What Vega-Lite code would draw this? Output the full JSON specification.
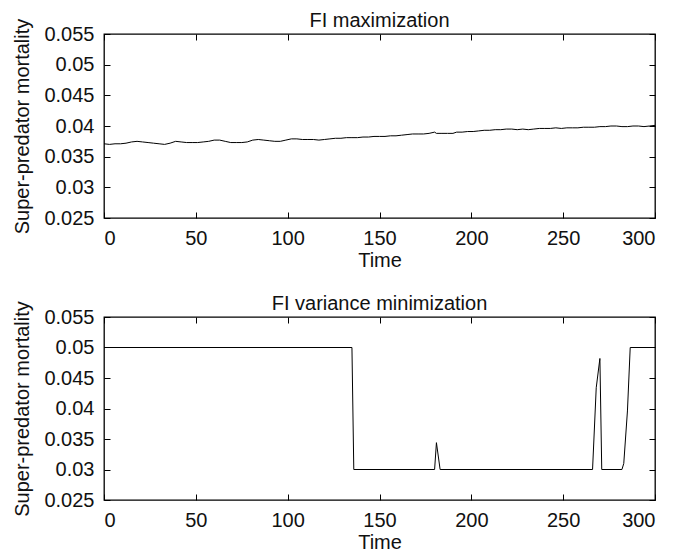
{
  "$schema": "https://vega.github.io/schema/vega-lite/v6.json",
  "padding": {"left": 12, "top": 10, "right": 10, "bottom": 0},
  "background": "white",
  "datasets": {
    "maximization": [
      {"time": 0, "mortality": 0.0371}, {"time": 3, "mortality": 0.0370}, {"time": 6, "mortality": 0.0371},
      {"time": 9, "mortality": 0.0371}, {"time": 12, "mortality": 0.0372}, {"time": 15, "mortality": 0.0374},
      {"time": 18, "mortality": 0.0375}, {"time": 21, "mortality": 0.0374}, {"time": 24, "mortality": 0.0373},
      {"time": 27, "mortality": 0.0372}, {"time": 30, "mortality": 0.0371}, {"time": 33, "mortality": 0.0370},
      {"time": 36, "mortality": 0.0372}, {"time": 39, "mortality": 0.0375}, {"time": 42, "mortality": 0.0374},
      {"time": 45, "mortality": 0.0373}, {"time": 48, "mortality": 0.0373}, {"time": 51, "mortality": 0.0373},
      {"time": 54, "mortality": 0.0374}, {"time": 57, "mortality": 0.0375}, {"time": 60, "mortality": 0.0377},
      {"time": 63, "mortality": 0.0377}, {"time": 66, "mortality": 0.0375}, {"time": 69, "mortality": 0.0373},
      {"time": 72, "mortality": 0.0373}, {"time": 75, "mortality": 0.0373}, {"time": 78, "mortality": 0.0374},
      {"time": 81, "mortality": 0.0377}, {"time": 84, "mortality": 0.0378}, {"time": 87, "mortality": 0.0377},
      {"time": 90, "mortality": 0.0376}, {"time": 93, "mortality": 0.0375}, {"time": 96, "mortality": 0.0375},
      {"time": 99, "mortality": 0.0377}, {"time": 102, "mortality": 0.0379}, {"time": 105, "mortality": 0.0379},
      {"time": 108, "mortality": 0.0378}, {"time": 111, "mortality": 0.0378}, {"time": 114, "mortality": 0.0378},
      {"time": 117, "mortality": 0.0377}, {"time": 120, "mortality": 0.0378}, {"time": 123, "mortality": 0.0379},
      {"time": 126, "mortality": 0.0380}, {"time": 129, "mortality": 0.0380}, {"time": 132, "mortality": 0.0381},
      {"time": 135, "mortality": 0.0381}, {"time": 138, "mortality": 0.0381}, {"time": 141, "mortality": 0.0382},
      {"time": 144, "mortality": 0.0382}, {"time": 147, "mortality": 0.0383}, {"time": 150, "mortality": 0.0383},
      {"time": 153, "mortality": 0.0383}, {"time": 156, "mortality": 0.0384}, {"time": 159, "mortality": 0.0384},
      {"time": 162, "mortality": 0.0385}, {"time": 165, "mortality": 0.0386}, {"time": 168, "mortality": 0.0387},
      {"time": 171, "mortality": 0.0387}, {"time": 174, "mortality": 0.0387}, {"time": 177, "mortality": 0.0388},
      {"time": 180, "mortality": 0.0390}, {"time": 181, "mortality": 0.0388}, {"time": 184, "mortality": 0.0388},
      {"time": 187, "mortality": 0.0388}, {"time": 190, "mortality": 0.0388}, {"time": 192, "mortality": 0.0390},
      {"time": 195, "mortality": 0.0390}, {"time": 198, "mortality": 0.0391}, {"time": 201, "mortality": 0.0391},
      {"time": 204, "mortality": 0.0392}, {"time": 207, "mortality": 0.0393}, {"time": 210, "mortality": 0.0393},
      {"time": 213, "mortality": 0.0394}, {"time": 216, "mortality": 0.0394}, {"time": 219, "mortality": 0.0395},
      {"time": 222, "mortality": 0.0395}, {"time": 225, "mortality": 0.0394}, {"time": 228, "mortality": 0.0395},
      {"time": 231, "mortality": 0.0394}, {"time": 234, "mortality": 0.0395}, {"time": 237, "mortality": 0.0396},
      {"time": 240, "mortality": 0.0396}, {"time": 243, "mortality": 0.0396}, {"time": 246, "mortality": 0.0397},
      {"time": 249, "mortality": 0.0396}, {"time": 252, "mortality": 0.0397}, {"time": 255, "mortality": 0.0397},
      {"time": 258, "mortality": 0.0397}, {"time": 261, "mortality": 0.0398}, {"time": 264, "mortality": 0.0398},
      {"time": 267, "mortality": 0.0398}, {"time": 270, "mortality": 0.0399}, {"time": 273, "mortality": 0.0399},
      {"time": 276, "mortality": 0.0400}, {"time": 279, "mortality": 0.0400}, {"time": 282, "mortality": 0.0399},
      {"time": 285, "mortality": 0.0399}, {"time": 288, "mortality": 0.0400}, {"time": 291, "mortality": 0.0400},
      {"time": 294, "mortality": 0.0399}, {"time": 297, "mortality": 0.0400}, {"time": 300, "mortality": 0.0401}
    ],
    "variance": [
      {"time": 0, "mortality": 0.05}, {"time": 135, "mortality": 0.05}, {"time": 136, "mortality": 0.03},
      {"time": 180, "mortality": 0.03}, {"time": 181, "mortality": 0.0344}, {"time": 183, "mortality": 0.03},
      {"time": 266, "mortality": 0.03}, {"time": 268, "mortality": 0.0434}, {"time": 270, "mortality": 0.0482},
      {"time": 271, "mortality": 0.03}, {"time": 282, "mortality": 0.03}, {"time": 283, "mortality": 0.031},
      {"time": 285, "mortality": 0.0396}, {"time": 286.5, "mortality": 0.05}, {"time": 300, "mortality": 0.05}
    ]
  },
  "vconcat": [
    {
      "width": 551,
      "height": 184,
      "title": {"text": "FI maximization"},
      "data": {"name": "maximization"},
      "layer": [
        {
          "mark": {"type": "line", "color": "black", "strokeWidth": 1},
          "encoding": {
            "x": {"field": "time", "type": "quantitative", "scale": {"domain": [0, 300], "nice": false},
                  "axis": {"title": "Time", "values": [0, 50, 100, 150, 200, 250, 300], "orient": "bottom", "ticks": true, "zindex": 1, "offset": -6, "tickSize": 6, "tickColor": "black", "labelPadding": 10, "titlePadding": 2}},
            "y": {"field": "mortality", "type": "quantitative", "scale": {"domain": [0.025, 0.055], "nice": false, "zero": false},
                  "axis": {"title": "Super-predator mortality", "values": [0.025, 0.03, 0.035, 0.04, 0.045, 0.05, 0.055], "format": ".3~f", "orient": "left", "ticks": true, "zindex": 1, "offset": -6, "tickSize": 6, "tickColor": "black", "labelPadding": 10, "titlePadding": 11}}
          }
        },
        {
          "mark": {"type": "line", "strokeOpacity": 0},
          "encoding": {
            "x": {"field": "time", "type": "quantitative", "scale": {"domain": [0, 300], "nice": false},
                  "axis": {"title": null, "labels": false, "values": [0, 50, 100, 150, 200, 250, 300], "orient": "top", "ticks": true, "zindex": 1, "offset": -6, "tickSize": 6, "tickColor": "black"}},
            "y": {"field": "mortality", "type": "quantitative", "scale": {"domain": [0.025, 0.055], "nice": false, "zero": false},
                  "axis": {"title": null, "labels": false, "values": [0.025, 0.03, 0.035, 0.04, 0.045, 0.05, 0.055], "orient": "right", "ticks": true, "zindex": 1, "offset": -6, "tickSize": 6, "tickColor": "black"}}
          }
        }
      ],
      "resolve": {"axis": {"x": "independent", "y": "independent"}}
    },
    {
      "width": 551,
      "height": 183,
      "title": {"text": "FI variance minimization"},
      "data": {"name": "variance"},
      "layer": [
        {
          "mark": {"type": "line", "color": "black", "strokeWidth": 1},
          "encoding": {
            "x": {"field": "time", "type": "quantitative", "scale": {"domain": [0, 300], "nice": false},
                  "axis": {"title": "Time", "values": [0, 50, 100, 150, 200, 250, 300], "orient": "bottom", "ticks": true, "zindex": 1, "offset": -6, "tickSize": 6, "tickColor": "black", "labelPadding": 10, "titlePadding": 2}},
            "y": {"field": "mortality", "type": "quantitative", "scale": {"domain": [0.025, 0.055], "nice": false, "zero": false},
                  "axis": {"title": "Super-predator mortality", "values": [0.025, 0.03, 0.035, 0.04, 0.045, 0.05, 0.055], "format": ".3~f", "orient": "left", "ticks": true, "zindex": 1, "offset": -6, "tickSize": 6, "tickColor": "black", "labelPadding": 10, "titlePadding": 11}}
          }
        },
        {
          "mark": {"type": "line", "strokeOpacity": 0},
          "encoding": {
            "x": {"field": "time", "type": "quantitative", "scale": {"domain": [0, 300], "nice": false},
                  "axis": {"title": null, "labels": false, "values": [0, 50, 100, 150, 200, 250, 300], "orient": "top", "ticks": true, "zindex": 1, "offset": -6, "tickSize": 6, "tickColor": "black"}},
            "y": {"field": "mortality", "type": "quantitative", "scale": {"domain": [0.025, 0.055], "nice": false, "zero": false},
                  "axis": {"title": null, "labels": false, "values": [0.025, 0.03, 0.035, 0.04, 0.045, 0.05, 0.055], "orient": "right", "ticks": true, "zindex": 1, "offset": -6, "tickSize": 6, "tickColor": "black"}}
          }
        }
      ],
      "resolve": {"axis": {"x": "independent", "y": "independent"}}
    }
  ],
  "spacing": 22,
  "config": {
    "font": "Liberation Sans",
    "view": {"stroke": "black", "strokeWidth": 1.3},
    "axis": {
      "grid": false,
      "domain": false,
      "labelColor": "#111111",
      "labelFont": "Liberation Sans",
      "labelFontSize": 20,
      "titleColor": "#111111",
      "titleFont": "Liberation Sans",
      "titleFontSize": 20,
      "titleFontWeight": "normal"
    },
    "title": {"font": "Liberation Sans", "fontSize": 20, "fontWeight": "normal", "color": "#111111", "offset": -13, "anchor": "middle"}
  }
}
